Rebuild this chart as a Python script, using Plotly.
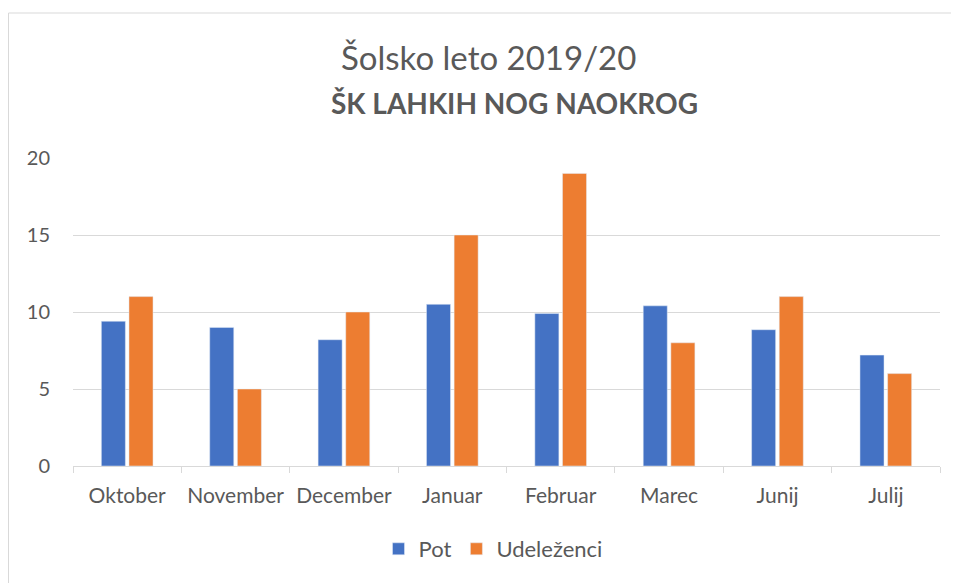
import plotly.graph_objects as go

months = ["Oktober", "November", "December", "Januar", "Februar", "Marec", "Junij", "Julij"]
pot = [9.4, 9.0, 8.2, 10.5, 9.9, 10.4, 8.85, 7.2]
udelezenci = [11, 5, 10, 15, 19, 8, 11, 6]
y_ticks = [0, 5, 10, 15, 20]
title_line1 = "Šolsko leto 2019/20"
title_line2 = "ŠK LAHKIH NOG NAOKROG"

FONT = "Lato"
GREY = "#595959"

fig = go.Figure()
fig.add_trace(go.Bar(name="Pot", x=months, y=pot, marker_color="#4472C4"))
fig.add_trace(go.Bar(name="Udeleženci", x=months, y=udelezenci, marker_color="#ED7D31"))

# page has an 8px body margin; figure is shifted by that
W, H = 951, 575
L, R, T, B = 65, 19, 150, 117
pw, ph = W - L - R, H - T - B

def px(xpage):
    return (xpage - 8 - L) / pw

def py(ypage):
    return (H - B - (ypage - 8)) / ph

fig.update_layout(
    width=W, height=H,
    margin=dict(l=L, r=R, t=T, b=B),
    paper_bgcolor="white", plot_bgcolor="white",
    barmode="group", bargap=0.49, bargroupgap=0.13,
    font=dict(family=FONT, color=GREY, size=21),
    showlegend=True,
    legend=dict(orientation="h", x=px(493), xanchor="center", xref="paper",
                y=py(549), yanchor="middle", font=dict(size=22, color=GREY),
                itemwidth=30, traceorder="normal"),
    xaxis=dict(showgrid=False, showline=True, linecolor="#d9d9d9", linewidth=1,
               ticks="outside", tickson="boundaries", ticklen=6, tickcolor="#d9d9d9",
               tickfont=dict(size=21, color=GREY), ticklabelstandoff=11),
    yaxis=dict(range=[0, 20], tickvals=y_ticks, showgrid=True, gridcolor="#d9d9d9",
               gridwidth=1, zeroline=False, showline=False, ticks="",
               tickfont=dict(size=20, color=GREY), ticklabelstandoff=22),
)

fig.add_annotation(text=title_line1, xref="paper", yref="paper",
                   x=px(488), y=py(57), xanchor="center", yanchor="middle",
                   showarrow=False, font=dict(family=FONT, size=33, color=GREY))
fig.add_annotation(text="<b>" + title_line2 + "</b>", xref="paper", yref="paper",
                   x=px(515), y=py(103), xanchor="center", yanchor="middle",
                   showarrow=False, font=dict(family=FONT, size=28, color=GREY))

fig.add_shape(type="rect", xref="paper", yref="paper",
              x0=px(8.5), x1=px(970), y0=py(600), y1=py(13),
              line=dict(color="#d9d9d9", width=1), layer="below")

fig.write_html("out.html")
